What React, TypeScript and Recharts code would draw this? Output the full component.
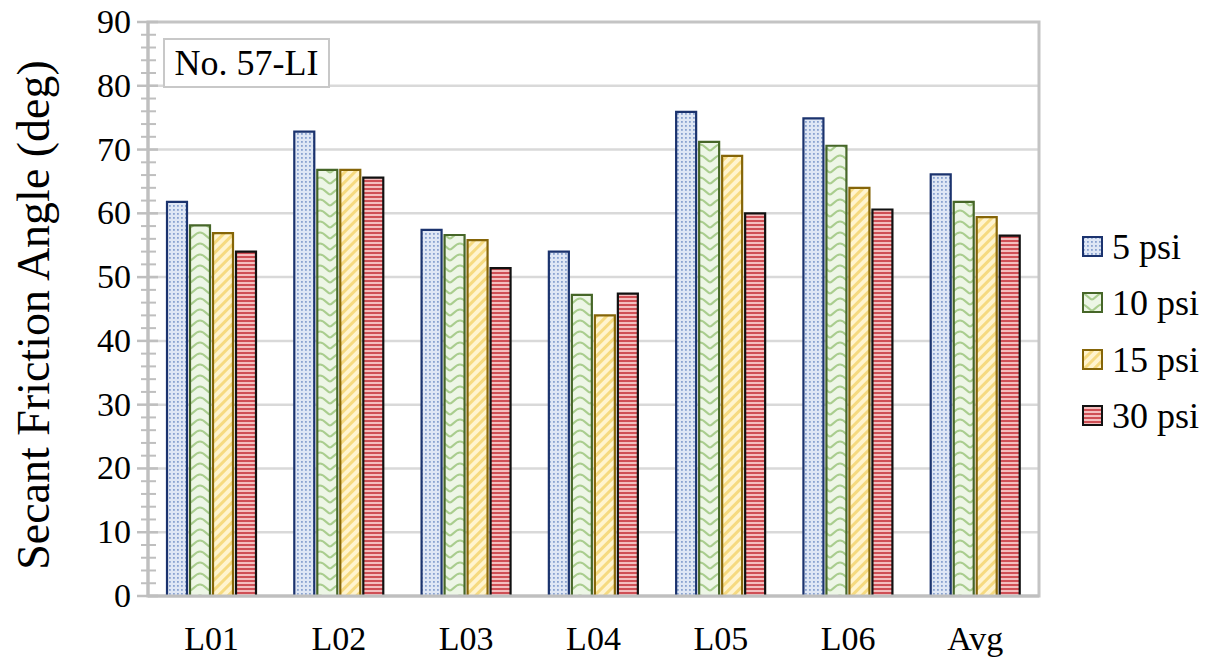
import React from "react";
import { BarChart, Bar, XAxis, YAxis, CartesianGrid, ReferenceArea, Label } from "recharts";

// Secant friction angle (deg) per lift and confining pressure
const categories = ["L01", "L02", "L03", "L04", "L05", "L06", "Avg"];
const psi5 = [61.8, 72.8, 57.4, 54.0, 75.9, 74.9, 66.1];
const psi10 = [58.1, 66.8, 56.6, 47.2, 71.2, 70.6, 61.8];
const psi15 = [56.9, 66.8, 55.8, 44.0, 69.0, 64.0, 59.4];
const psi30 = [54.0, 65.6, 51.4, 47.4, 60.0, 60.6, 56.5];

const seriesNames = ["5 psi", "10 psi", "15 psi", "30 psi"];
const yGridValues = [10, 20, 30, 40, 50, 60, 70, 80];
const yMinorStep = 2;
const yTicks = Array.from({ length: 90 / yMinorStep + 1 }, (_, i) => i * yMinorStep);
const titleText = "No. 57-LI";
const yTitle = "Secant Friction Angle (deg)";

const FONT = '"Liberation Serif", Tinos, "Times New Roman", Times';

const data = categories.map((c, i) => ({
  cat: c,
  s5: psi5[i],
  s10: psi10[i],
  s15: psi15[i],
  s30: psi30[i],
}));

const series = [
  { key: "s5", name: seriesNames[0], fill: "url(#pDots)", stroke: "#1b336e" },
  { key: "s10", name: seriesNames[1], fill: "url(#pWave)", stroke: "#466628" },
  { key: "s15", name: seriesNames[2], fill: "url(#pDiag)", stroke: "#856508" },
  { key: "s30", name: seriesNames[3], fill: "url(#pStripe)", stroke: "#111111" },
];

const PatternDefs = () => (
  <svg width={0} height={0} style={{ position: "absolute" }}>
    <defs>
      <pattern id="pDots" width={4} height={4} patternUnits="userSpaceOnUse">
        <rect width={4} height={4} fill="#dfe7f5" />
        <rect x={1} y={1} width={1.8} height={1.8} fill="#8aa3d0" />
      </pattern>
      <pattern id="pWave" width={20} height={11} patternUnits="userSpaceOnUse">
        <rect width={20} height={11} fill="#edf6e6" />
        <path d="M0 1.5 C5 1.5 7 7.5 10 7.5 C13 7.5 15 1.5 20 1.5" fill="none" stroke="#a9cd8e" strokeWidth={2.2} />
      </pattern>
      <pattern id="pDiag" width={7} height={7} patternUnits="userSpaceOnUse" patternTransform="rotate(45)">
        <rect width={7} height={7} fill="#fff4cf" />
        <rect width={3} height={7} fill="#f6da80" />
      </pattern>
      <pattern id="pStripe" width={4} height={4} patternUnits="userSpaceOnUse">
        <rect width={4} height={4} fill="#f4bfbf" />
        <rect width={4} height={2} fill="#cf4f55" />
      </pattern>
    </defs>
  </svg>
);

const YTick = (props: any) => {
  const { x, y, payload } = props;
  const major = payload.value % 10 === 0;
  return (
    <g>
      <line
        x1={x - (major ? 11 : 7)}
        x2={x + (major ? 10 : 8)}
        y1={y}
        y2={y}
        stroke="#bfbfbf"
        strokeWidth={major ? 2.5 : 2}
      />
      {major && (
        <text x={x - 17} y={y} dy={11} textAnchor="end" fontSize={34} fontFamily={FONT} fill="#000">
          {payload.value}
        </text>
      )}
    </g>
  );
};

export default function App() {
  return (
    <div style={{ position: "absolute", left: 0, top: 0, width: 1216, height: 662, background: "#fff", fontFamily: FONT }}>
      <PatternDefs />
      <BarChart
        width={1216}
        height={662}
        data={data}
        margin={{ top: 22, right: 177, left: 0, bottom: 0 }}
        barSize={20}
        barGap={3}
      >
        <CartesianGrid vertical={false} horizontalValues={yGridValues} stroke="#d9d9d9" strokeWidth={2.5} />
        <ReferenceArea y1={0} y2={90} fill="none" stroke="#c4c4c4" strokeWidth={3} ifOverflow="visible" />
        <XAxis
          dataKey="cat"
          height={66}
          interval={0}
          tickLine={false}
          tickSize={0}
          tickMargin={30}
          axisLine={{ stroke: "#bfbfbf", strokeWidth: 3 }}
          tick={{ fontSize: 34, fontFamily: FONT, fill: "#000" }}
        />
        <YAxis
          width={148}
          domain={[0, 90]}
          ticks={yTicks}
          interval={0}
          tickLine={false}
          tickSize={0}
          tickMargin={0}
          axisLine={{ stroke: "#bfbfbf", strokeWidth: 3 }}
          tick={<YTick />}
        >
          <Label
            content={(p: any) => {
              const vb = p.viewBox || { y: 22, height: 574 };
              const cy = vb.y + vb.height / 2 + 6;
              const cx = 33;
              return (
                <text
                  x={cx}
                  y={cy}
                  transform={`rotate(-90, ${cx}, ${cy})`}
                  textAnchor="middle"
                  dominantBaseline="central"
                  fontSize={46}
                  fontFamily={FONT}
                  fill="#000"
                >
                  {yTitle}
                </text>
              );
            }}
          />
        </YAxis>
        {series.map((s) => (
          <Bar
            key={s.key}
            dataKey={s.key}
            name={s.name}
            fill={s.fill}
            stroke={s.stroke}
            strokeWidth={2.2}
            isAnimationActive={false}
          />
        ))}
      </BarChart>

      <div
        style={{
          position: "absolute",
          left: 163,
          top: 38,
          width: 167,
          height: 50,
          boxSizing: "border-box",
          border: "2px solid #c8c8c8",
          background: "#fff",
          fontSize: 36,
          lineHeight: "46px",
          textAlign: "center",
          color: "#000",
        }}
      >
        {titleText}
      </div>

      <div style={{ position: "absolute", left: 1082, top: 219 }}>
        {series.map((s) => (
          <div key={s.key} style={{ display: "flex", alignItems: "center", height: 56.3 }}>
            <svg width={22} height={22} style={{ display: "block" }}>
              <rect x={1} y={1} width={19} height={19} fill={s.fill} stroke={s.stroke} strokeWidth={2} />
            </svg>
            <span style={{ marginLeft: 8, fontSize: 36, color: "#000", lineHeight: "40px" }}>{s.name}</span>
          </div>
        ))}
      </div>
    </div>
  );
}
